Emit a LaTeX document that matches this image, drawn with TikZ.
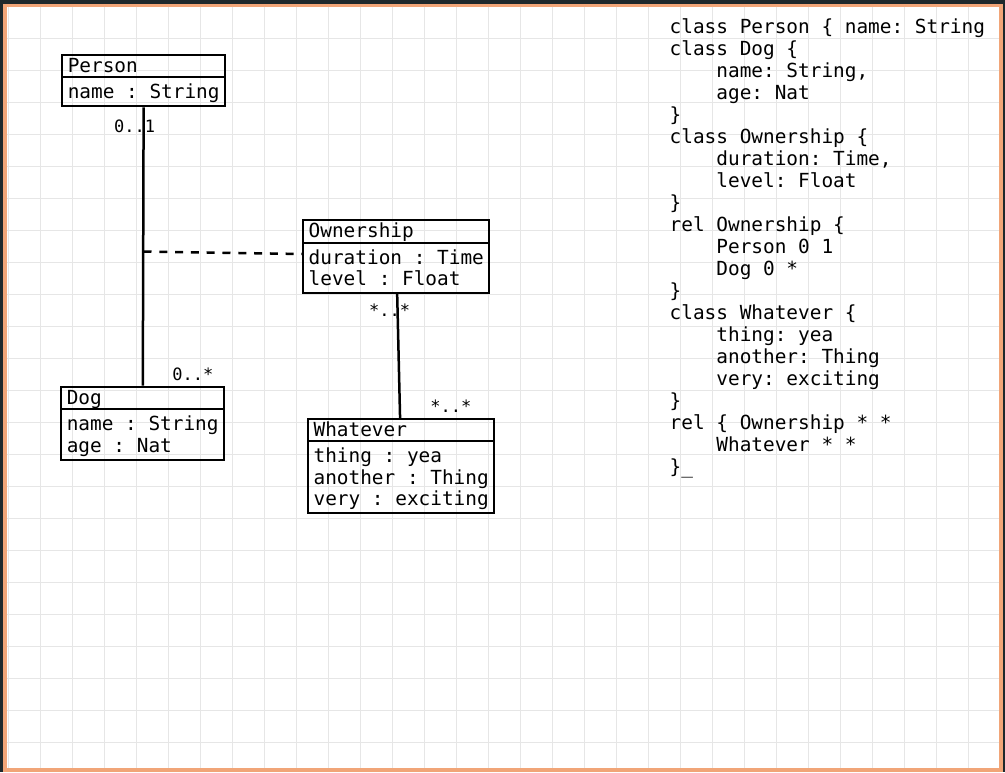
\documentclass[tikz,border=0pt]{standalone}
\usepackage{fontspec}
\setmonofont{DejaVu Sans Mono}
\usetikzlibrary{shapes.multipart}

\definecolor{frameorange}{RGB}{241,165,120}
\definecolor{backdrop}{RGB}{30,40,44}
\definecolor{gridgray}{RGB}{230,230,230}

\newcommand{\titlestrut}{\rule[-3.5pt]{0pt}{20pt}}
\newcommand{\firstrow}{\rule{0pt}{20.5pt}}
\newcommand{\codetab}{\phantom{xxxx}}

\tikzset{
  classbox/.style={draw, line width=2pt, rectangle split, rectangle split parts=2,
    rectangle split part align={left}, inner xsep=5.5pt, inner ysep=0pt, anchor=north,
    font=\ttfamily\fontsize{19.4}{21.5}\selectfont\frenchspacing},
  assoc/.style={-, line width=2.5pt},
  assocdash/.style={-, line width=2.5pt, dash pattern=on 8pt off 7.8pt},
  mult/.style={font=\ttfamily\fontsize{17}{17}\selectfont, inner sep=0pt},
  gridline/.style={gridgray, line width=1pt},
  code/.style={align=left, inner sep=0pt, anchor=north west,
    font=\ttfamily\fontsize{19.4}{22}\selectfont\frenchspacing}
}

\begin{document}
\begin{tikzpicture}[x=1pt, y=-1pt]
   \useasboundingbox (0,0) rectangle (1005,772);
   \fill[backdrop] (0,0) rectangle (1005,772);
   \fill[frameorange] (2.7,4) rectangle (1003.3,772);
   \fill[white] (7.3,6.7) rectangle (999,767.7);
   \foreach \gx in {8.7,40.7,...,968.7}
     \draw[gridline] (\gx,6.7) -- (\gx,767.7);
   \foreach \gy in {38.3,70.3,...,742.3}
     \draw[gridline] (7.3,\gy) -- (999,\gy);

   \draw (143.7,54.3) node[classbox] (person) {\titlestrut Person\nodepart{two}\begin{tabular}[t]{@{}l@{}}\firstrow name : String\end{tabular}};
   \draw (142.7,385.5) node[classbox] (dog) {\titlestrut Dog\nodepart{two}\begin{tabular}[t]{@{}l@{}}\firstrow name : String\\ age : Nat\end{tabular}};
   \draw (396.3,219) node[classbox] (ownership) {\titlestrut Ownership\nodepart{two}\begin{tabular}[t]{@{}l@{}}\firstrow duration : Time\\ level : Float\end{tabular}};
   \draw (401.2,418.3) node[classbox] (whatever) {\titlestrut Whatever\nodepart{two}\begin{tabular}[t]{@{}l@{}}\firstrow thing : yea\\ another : Thing\\ very : exciting\end{tabular}};

   \coordinate (link) at (143.5,251.5);

   \path[assoc] (person) edge node[mult, pos=0.07, xshift=-9pt] (personmult) {0..1}
                              node[mult, pos=0.96, xshift=50pt] (dogmult) {0..*} (dog);
   \path[assoc] (ownership) edge node[mult, pos=0.13, xshift=-8pt] (ownmult) {*..*}
                                 node[mult, pos=0.9, xshift=51pt] (whatmult) {*..*} (whatever);
   \draw[assocdash] (link) -- ([yshift=2.5pt]ownership.west);

   \draw (669.5,17.9) node[code] (source) {\strut class Person \{ name: String\\
class Dog \{\\
\codetab name: String,\\
\codetab age: Nat\\
\}\\
class Ownership \{\\
\codetab duration: Time,\\
\codetab level: Float\\
\}\\
rel Ownership \{\\
\codetab Person 0 1\\
\codetab Dog 0 *\\
\}\\
class Whatever \{\\
\codetab thing: yea\\
\codetab another: Thing\\
\codetab very: exciting\\
\}\\
rel \{ Ownership * *\\
\codetab Whatever * *\\
\}\_};
\end{tikzpicture}
\end{document}
